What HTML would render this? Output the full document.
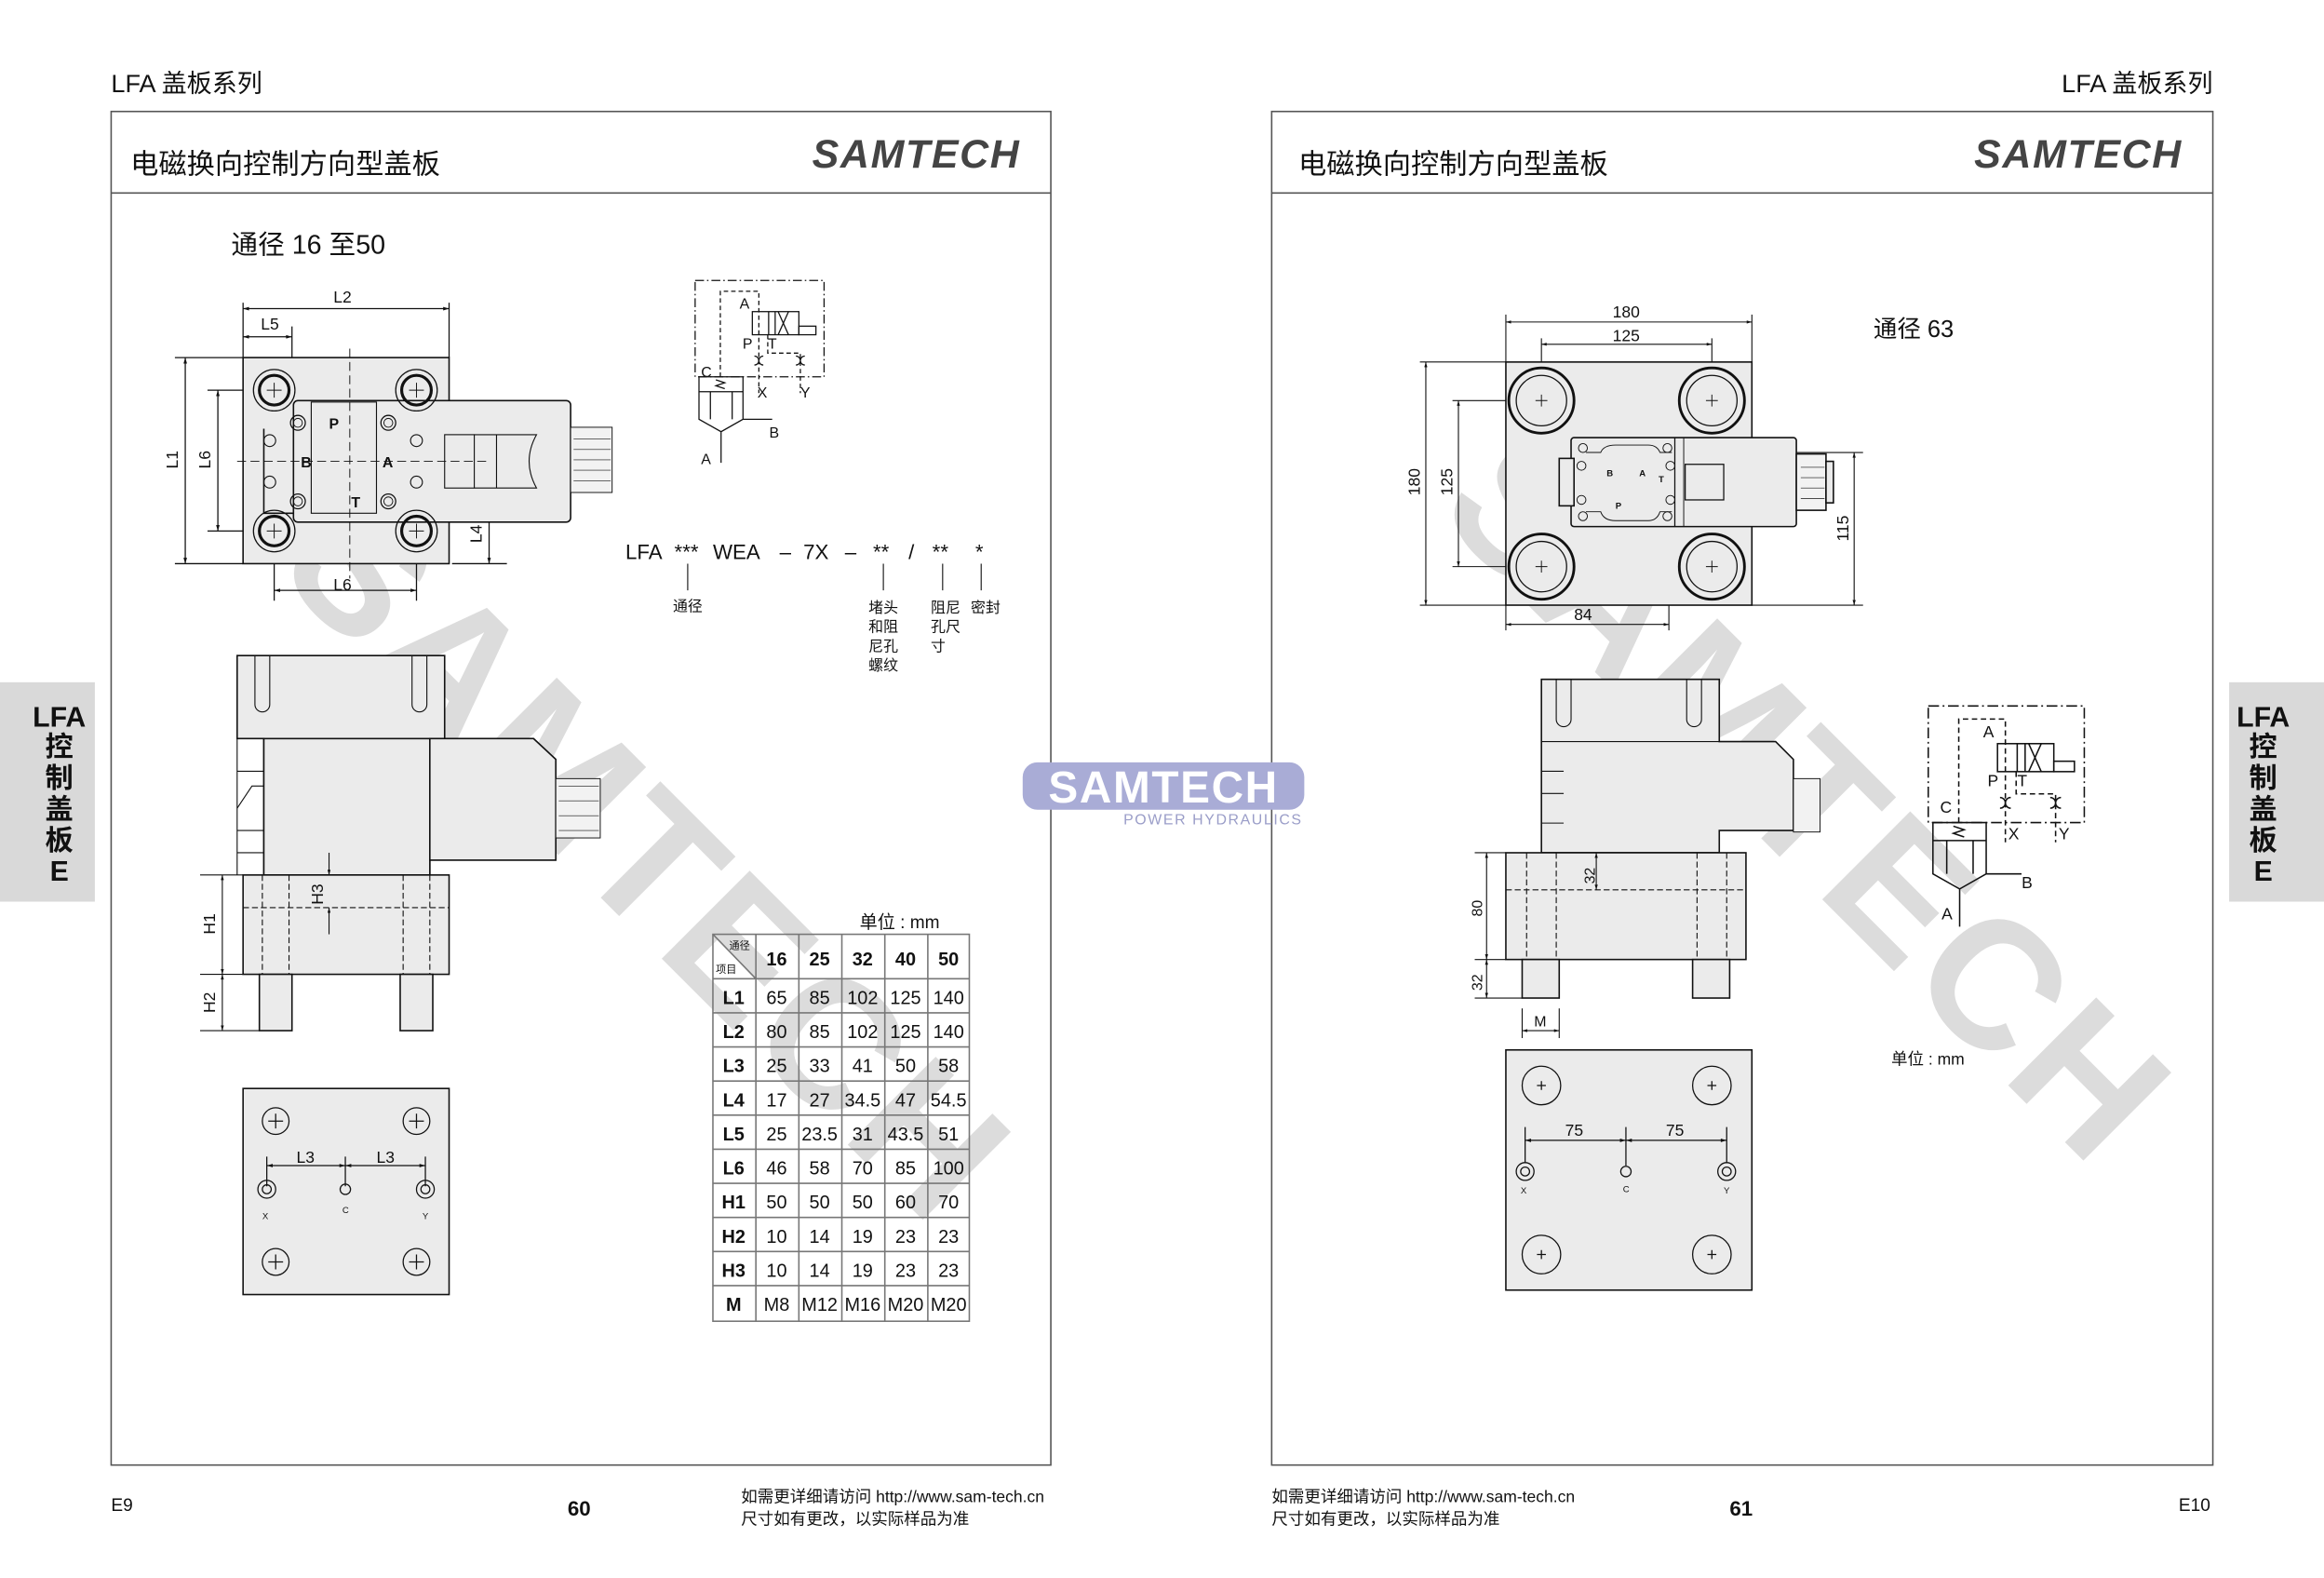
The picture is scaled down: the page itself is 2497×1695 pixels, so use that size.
<!DOCTYPE html>
<html><head><meta charset="utf-8"><style>
html,body{margin:0;padding:0;background:#fff;}
svg{display:block}
text{font-family:"Liberation Sans","Noto Sans CJK SC",sans-serif;fill:#111}
.cjk{font-family:"Noto Sans CJK SC","WenQuanYi Zen Hei",sans-serif}
</style></head><body>
<svg width="2497" height="1695" viewBox="0 0 1568 1064" xmlns="http://www.w3.org/2000/svg">
<defs>
<marker id="ar" viewBox="0 0 10 6" refX="10" refY="3" markerWidth="6" markerHeight="3" orient="auto-start-reverse"><path d="M0,0L10,3L0,6z" fill="#111"/></marker>
<g id="sym" fill="none" stroke="#111" stroke-width="0.8">
<rect x="0" y="0" width="87" height="65" stroke-dasharray="6,2,1,2"/>
<path d="M17,65V7.3H43V76 M49,36.6V49H71V76" stroke-dasharray="3,2"/>
<rect x="38.6" y="21" width="31.4" height="15.6"/>
<line x1="49.6" y1="21" x2="49.6" y2="36.6"/><line x1="54" y1="21" x2="54" y2="36.6"/>
<line x1="56" y1="21" x2="63" y2="36.6"/><line x1="63" y1="21" x2="56" y2="36.6"/>
<rect x="70" y="30.8" width="11.5" height="5.8"/>
<path d="M40,57a3,3 0 0 0 0,-6 M46,57a3,3 0 0 1 0,-6 M68,57a3,3 0 0 0 0,-6 M74,57a3,3 0 0 1 0,-6"/>
<path d="M2.6,65H32.3V93.6L17.5,102L2.6,93.6Z M2.6,75H32.3 M10.3,75V93.6 M25,75V93.6 M32.3,93.6H52 M17.5,102V123"/>
<path d="M14,67l6,2l-6,2l6,2"/>
</g>
</defs>

<!-- watermarks -->
<text x="0" y="0" font-size="122" font-weight="bold" transform="translate(185,385) rotate(45)" style="fill:#dcdcdc" letter-spacing="4">SAMTECH</text>
<text x="0" y="0" font-size="122" font-weight="bold" transform="translate(968,345) rotate(45)" style="fill:#dcdcdc" letter-spacing="4">SAMTECH</text>

<!-- headers -->
<text x="75" y="62" font-size="17">LFA 盖板系列</text>
<text x="1493" y="62" font-size="17" text-anchor="end">LFA 盖板系列</text>

<!-- frames -->
<g fill="none" stroke="#555" stroke-width="1">
<rect x="75" y="75" width="634" height="913"/><line x1="75" y1="130" x2="709" y2="130"/>
<rect x="858" y="75" width="635" height="913"/><line x1="858" y1="130" x2="1493" y2="130"/>
</g>
<text x="88" y="117" font-size="19" class="cjk">电磁换向控制方向型盖板</text>
<text x="876" y="117" font-size="19" class="cjk">电磁换向控制方向型盖板</text>
<text x="548" y="113" font-size="27" font-weight="bold" font-style="italic" style="fill:#444" letter-spacing="1">SAMTECH</text>
<text x="1332" y="113" font-size="27" font-weight="bold" font-style="italic" style="fill:#444" letter-spacing="1">SAMTECH</text>

<!-- side tabs -->
<rect x="0" y="460" width="64" height="148" fill="#d9d9d9"/>
<rect x="1504" y="460" width="64" height="148" fill="#d9d9d9"/>
<g font-size="19" font-weight="bold" text-anchor="middle">
<text x="40" y="490">LFA</text><text x="40" y="510">控</text><text x="40" y="531">制</text><text x="40" y="552">盖</text><text x="40" y="573">板</text><text x="40" y="594">E</text>
<text x="1527" y="490">LFA</text><text x="1527" y="510">控</text><text x="1527" y="531">制</text><text x="1527" y="552">盖</text><text x="1527" y="573">板</text><text x="1527" y="594">E</text>
</g>

<!-- center logo -->
<rect x="690" y="514" width="190" height="32" rx="10" fill="#a9acd6"/>
<text x="785" y="541" font-size="30" font-weight="bold" text-anchor="middle" style="fill:#fff" letter-spacing="1">SAMTECH</text>
<text x="758" y="556" font-size="10" style="fill:#9a9dc8" letter-spacing="1">POWER HYDRAULICS</text>

<!-- LEFT PAGE -->
<text x="156" y="171" font-size="18">通径 16 至50</text>

<g stroke="#111" stroke-width="0.8" fill="none">
<line x1="164" y1="204" x2="164" y2="241"/><line x1="303" y1="204" x2="303" y2="241"/>
<line x1="164" y1="208" x2="303" y2="208" marker-start="url(#ar)" marker-end="url(#ar)"/>
<line x1="164" y1="227" x2="197" y2="227" marker-start="url(#ar)" marker-end="url(#ar)"/>
<line x1="197" y1="220" x2="197" y2="290"/>
<line x1="118" y1="241" x2="164" y2="241"/><line x1="118" y1="380" x2="164" y2="380"/>
<line x1="125" y1="241" x2="125" y2="380" marker-start="url(#ar)" marker-end="url(#ar)"/>
<line x1="140" y1="263" x2="185" y2="263"/><line x1="140" y1="358" x2="185" y2="358"/>
<line x1="147" y1="263" x2="147" y2="358" marker-start="url(#ar)" marker-end="url(#ar)"/>
<line x1="185" y1="358" x2="185" y2="405"/><line x1="281" y1="358" x2="281" y2="405"/>
<line x1="185" y1="398" x2="281" y2="398" marker-start="url(#ar)" marker-end="url(#ar)"/>
<line x1="305" y1="380" x2="342" y2="380"/>
<line x1="330" y1="345" x2="330" y2="380" marker-start="url(#ar)" marker-end="url(#ar)"/>
</g>
<g font-size="11" style="fill:#222">
<text x="225" y="204">L2</text><text x="176" y="222">L5</text>
<text x="120" y="316" transform="rotate(-90 120 316)">L1</text>
<text x="142" y="316" transform="rotate(-90 142 316)">L6</text>
<text x="225" y="398">L6</text>
<text x="325" y="366" transform="rotate(-90 325 366)">L4</text>
</g>
<g stroke="#111" stroke-width="1" fill="#ebebeb">
<rect x="164" y="241" width="139" height="139"/>
<rect x="198" y="270" width="187" height="82" rx="3"/>
<path d="M178,289V346H198" fill="none"/>
<rect x="385" y="288" width="28" height="44" fill="#f2f2f2" stroke-width="0.6"/>
</g>
<g stroke="#111" fill="none">
<circle cx="185" cy="263" r="14" stroke-width="0.8"/><circle cx="185" cy="263" r="10" stroke-width="2"/>
<circle cx="281" cy="263" r="14" stroke-width="0.8"/><circle cx="281" cy="263" r="10" stroke-width="2"/>
<circle cx="185" cy="358" r="14" stroke-width="0.8"/><circle cx="185" cy="358" r="10" stroke-width="2"/>
<circle cx="281" cy="358" r="14" stroke-width="0.8"/><circle cx="281" cy="358" r="10" stroke-width="2"/>
<path d="M180,263h10M185,258v10M276,263h10M281,258v10M180,358h10M185,353v10M276,358h10M281,353v10" stroke-width="0.6"/>
<rect x="210" y="271" width="44" height="75" fill="#ebebeb" stroke-width="0.7"/>
<circle cx="201" cy="285" r="5" stroke-width="0.8"/><circle cx="201" cy="285" r="3" stroke-width="0.6"/>
<circle cx="262" cy="285" r="5" stroke-width="0.8"/><circle cx="262" cy="285" r="3" stroke-width="0.6"/>
<circle cx="201" cy="338" r="5" stroke-width="0.8"/><circle cx="201" cy="338" r="3" stroke-width="0.6"/>
<circle cx="262" cy="338" r="5" stroke-width="0.8"/><circle cx="262" cy="338" r="3" stroke-width="0.6"/>
<circle cx="182" cy="297" r="4" stroke-width="0.7"/><circle cx="182" cy="325" r="4" stroke-width="0.7"/>
<circle cx="281" cy="297" r="4" stroke-width="0.7"/><circle cx="281" cy="325" r="4" stroke-width="0.7"/>
<path d="M236,235V390 M160,311H330" stroke-dasharray="6,3" stroke-width="0.6"/>
<rect x="300" y="293" width="20" height="36" stroke-width="0.7"/>
<path d="M320,293H335V329H320 M335,293H362Q352,311 362,329H335" stroke-width="0.7"/>
<path d="M387,296H412M387,303H412M387,310H412M387,317H412M387,324H412" stroke-width="0.4"/>
</g>
<g font-size="10" font-weight="bold"><text x="222" y="289">P</text><text x="203" y="315">B</text><text x="258" y="315">A</text><text x="237" y="342">T</text></g>

<!-- side view left -->
<g stroke="#111" stroke-width="1" fill="#ebebeb">
<path d="M160,442H300V498H290V590H178V498H160Z"/>
<rect x="178" y="498" width="112" height="92"/>
<path d="M290,498H360L375,512V580H290Z"/>
<rect x="375" y="525" width="30" height="40" fill="#f2f2f2" stroke-width="0.6"/>
<rect x="164" y="590" width="139" height="67"/>
<rect x="175" y="657" width="22" height="38"/><rect x="270" y="657" width="22" height="38"/>
</g>
<g stroke="#111" fill="none" stroke-width="0.7">
<path d="M172,442V475a5,5 0 0 0 10,0V442 M278,442V475a5,5 0 0 0 10,0V442"/>
<path d="M160,520H178M160,545L170,530H178M160,560H178 M160,575H178"/>
<path d="M178,498H160V590" />
<path d="M177,590V657 M195,590V657 M272,590V657 M290,590V657" stroke-dasharray="4,2"/>
<path d="M164,612H303" stroke-dasharray="4,2"/>
<line x1="222" y1="575" x2="222" y2="590" marker-end="url(#ar)"/>
<line x1="222" y1="630" x2="222" y2="612" marker-end="url(#ar)"/>
<line x1="135" y1="590" x2="164" y2="590"/><line x1="135" y1="657" x2="164" y2="657"/><line x1="135" y1="695" x2="175" y2="695"/>
<line x1="150" y1="590" x2="150" y2="657" marker-start="url(#ar)" marker-end="url(#ar)"/>
<line x1="150" y1="657" x2="150" y2="695" marker-start="url(#ar)" marker-end="url(#ar)"/>
<path d="M377,530H404M377,540H404M377,550H404M377,560H404" stroke-width="0.4"/>
</g>
<g font-size="11"><text x="145" y="630" transform="rotate(-90 145 630)">H1</text><text x="145" y="683" transform="rotate(-90 145 683)">H2</text><text x="218" y="610" transform="rotate(-90 218 610)">H3</text></g>

<!-- bottom view left -->
<rect x="164" y="734" width="139" height="139" fill="#ebebeb" stroke="#111" stroke-width="1"/>
<g stroke="#111" fill="none" stroke-width="0.8">
<circle cx="186" cy="756" r="9"/><circle cx="281" cy="756" r="9"/><circle cx="186" cy="851" r="9"/><circle cx="281" cy="851" r="9"/>
<path d="M181,756h10M186,751v10M276,756h10M281,751v10M181,851h10M186,846v10M276,851h10M281,846v10"/>
<circle cx="180" cy="802" r="6"/><circle cx="180" cy="802" r="3"/><circle cx="287" cy="802" r="6"/><circle cx="287" cy="802" r="3"/><circle cx="233" cy="802" r="3.5"/>
<path d="M180,780V800M233,780V800M287,780V800"/>
<line x1="180" y1="786" x2="233" y2="786" marker-start="url(#ar)" marker-end="url(#ar)"/>
<line x1="233" y1="786" x2="287" y2="786" marker-start="url(#ar)" marker-end="url(#ar)"/>
</g>
<g font-size="11"><text x="200" y="784">L3</text><text x="254" y="784">L3</text></g>
<g font-size="6"><text x="177" y="822">X</text><text x="231" y="818">C</text><text x="285" y="822">Y</text></g>

<!-- symbol left -->
<use href="#sym" transform="translate(469,189)"/>
<g font-size="10"><text x="499" y="208">A</text><text x="501" y="235">P</text><text x="518" y="235">T</text><text x="473" y="254">C</text><text x="511" y="268">X</text><text x="540" y="268">Y</text><text x="519" y="295">B</text><text x="473" y="313">A</text></g>

<!-- code -->
<g font-size="14">
<text x="422" y="377">LFA</text><text x="455" y="377">***</text><text x="481" y="377">WEA</text><text x="526" y="377">–</text><text x="542" y="377">7X</text><text x="570" y="377">–</text><text x="589" y="377">**</text><text x="613" y="377">/</text><text x="629" y="377">**</text><text x="658" y="377">*</text>
</g>
<g stroke="#111" stroke-width="0.7"><path d="M464,380V398M596,380V398M636,380V398M662,380V398"/></g>
<g font-size="10" class="cjk">
<text x="454" y="412">通径</text>
<text x="586" y="413">堵头</text><text x="586" y="426">和阻</text><text x="586" y="439">尼孔</text><text x="586" y="452">螺纹</text>
<text x="628" y="413">阻尼</text><text x="628" y="426">孔尺</text><text x="628" y="439">寸</text>
<text x="655" y="413">密封</text>
</g>

<!-- table -->
<text x="580" y="626" font-size="12">单位 : mm</text>
<g stroke="#777" stroke-width="1" fill="none">
<rect x="481" y="630" width="173" height="261"/>
<path d="M510,630V891M539,630V891M568,630V891M597,630V891M626,630V891"/>
<path d="M481,660H654M481,683H654M481,706H654M481,729H654M481,752H654M481,775H654M481,798H654M481,821H654M481,844H654M481,867H654"/>
<line x1="481" y1="630" x2="510" y2="660"/>
</g>
<text x="492" y="640" font-size="7" class="cjk">通径</text><text x="483" y="656" font-size="7" class="cjk">项目</text>
<g font-size="12.5" text-anchor="middle">
<g font-weight="bold"><text x="524" y="651">16</text><text x="553" y="651">25</text><text x="582" y="651">32</text><text x="611" y="651">40</text><text x="640" y="651">50</text>
<text x="495" y="677">L1</text><text x="495" y="700">L2</text><text x="495" y="723">L3</text><text x="495" y="746">L4</text><text x="495" y="769">L5</text><text x="495" y="792">L6</text><text x="495" y="815">H1</text><text x="495" y="838">H2</text><text x="495" y="861">H3</text><text x="495" y="884">M</text></g>
<text x="524" y="677">65</text><text x="553" y="677">85</text><text x="582" y="677">102</text><text x="611" y="677">125</text><text x="640" y="677">140</text>
<text x="524" y="700">80</text><text x="553" y="700">85</text><text x="582" y="700">102</text><text x="611" y="700">125</text><text x="640" y="700">140</text>
<text x="524" y="723">25</text><text x="553" y="723">33</text><text x="582" y="723">41</text><text x="611" y="723">50</text><text x="640" y="723">58</text>
<text x="524" y="746">17</text><text x="553" y="746">27</text><text x="582" y="746">34.5</text><text x="611" y="746">47</text><text x="640" y="746">54.5</text>
<text x="524" y="769">25</text><text x="553" y="769">23.5</text><text x="582" y="769">31</text><text x="611" y="769">43.5</text><text x="640" y="769">51</text>
<text x="524" y="792">46</text><text x="553" y="792">58</text><text x="582" y="792">70</text><text x="611" y="792">85</text><text x="640" y="792">100</text>
<text x="524" y="815">50</text><text x="553" y="815">50</text><text x="582" y="815">50</text><text x="611" y="815">60</text><text x="640" y="815">70</text>
<text x="524" y="838">10</text><text x="553" y="838">14</text><text x="582" y="838">19</text><text x="611" y="838">23</text><text x="640" y="838">23</text>
<text x="524" y="861">10</text><text x="553" y="861">14</text><text x="582" y="861">19</text><text x="611" y="861">23</text><text x="640" y="861">23</text>
<text x="524" y="884">M8</text><text x="553" y="884">M12</text><text x="582" y="884">M16</text><text x="611" y="884">M20</text><text x="640" y="884">M20</text>
</g>

<!-- footers -->
<text x="75" y="1019" font-size="12">E9</text>
<text x="383" y="1022" font-size="14" font-weight="bold">60</text>
<text x="500" y="1013" font-size="11">如需更详细请访问 http://www.sam-tech.cn</text>
<text x="500" y="1028" font-size="11" class="cjk">尺寸如有更改，以实际样品为准</text>
<text x="858" y="1013" font-size="11">如需更详细请访问 http://www.sam-tech.cn</text>
<text x="858" y="1028" font-size="11" class="cjk">尺寸如有更改，以实际样品为准</text>
<text x="1167" y="1022" font-size="14" font-weight="bold">61</text>
<text x="1470" y="1019" font-size="12">E10</text>

<!-- RIGHT PAGE -->
<text x="1264" y="227" font-size="16">通径 63</text>
<g stroke="#111" stroke-width="0.7" fill="none">
<line x1="1016" y1="212" x2="1016" y2="244"/><line x1="1182" y1="212" x2="1182" y2="244"/>
<line x1="1016" y1="217" x2="1182" y2="217" marker-start="url(#ar)" marker-end="url(#ar)"/>
<line x1="1040" y1="228" x2="1040" y2="270"/><line x1="1155" y1="228" x2="1155" y2="270"/>
<line x1="1040" y1="232" x2="1155" y2="232" marker-start="url(#ar)" marker-end="url(#ar)"/>
<line x1="958" y1="244" x2="1016" y2="244"/><line x1="958" y1="408" x2="1016" y2="408"/>
<line x1="962" y1="244" x2="962" y2="408" marker-start="url(#ar)" marker-end="url(#ar)"/>
<line x1="980" y1="270" x2="1040" y2="270"/><line x1="980" y1="382" x2="1040" y2="382"/>
<line x1="984" y1="270" x2="984" y2="382" marker-start="url(#ar)" marker-end="url(#ar)"/>
<line x1="1016" y1="408" x2="1016" y2="425"/><line x1="1126" y1="382" x2="1126" y2="425"/>
<line x1="1016" y1="421" x2="1126" y2="421" marker-start="url(#ar)" marker-end="url(#ar)"/>
<line x1="1126" y1="305" x2="1257" y2="305"/><line x1="1182" y1="408" x2="1257" y2="408"/>
<line x1="1251" y1="305" x2="1251" y2="408" marker-start="url(#ar)" marker-end="url(#ar)"/>
</g>
<g font-size="11" style="fill:#222"><text x="1088" y="214">180</text><text x="1088" y="230">125</text><text x="1062" y="418">84</text>
<text x="958" y="334" transform="rotate(-90 958 334)">180</text><text x="980" y="334" transform="rotate(-90 980 334)">125</text><text x="1247" y="365" transform="rotate(-90 1247 365)">115</text></g>
<g stroke="#111" stroke-width="1" fill="#ebebeb">
<rect x="1016" y="244" width="166" height="164"/>
<rect x="1060" y="295" width="152" height="60" rx="2"/>
<rect x="1052" y="309" width="10" height="32"/>
<rect x="1212" y="306" width="20" height="38" fill="#f2f2f2"/>
<rect x="1232" y="311" width="5" height="28"/>
</g>
<g stroke="#111" fill="none">
<circle cx="1040" cy="270" r="22" stroke-width="1.8"/><circle cx="1040" cy="270" r="17" stroke-width="0.8"/>
<circle cx="1155" cy="270" r="22" stroke-width="1.8"/><circle cx="1155" cy="270" r="17" stroke-width="0.8"/>
<circle cx="1040" cy="382" r="22" stroke-width="1.8"/><circle cx="1040" cy="382" r="17" stroke-width="0.8"/>
<circle cx="1155" cy="382" r="22" stroke-width="1.8"/><circle cx="1155" cy="382" r="17" stroke-width="0.8"/>
<path d="M1036,270h8M1040,266v8M1151,270h8M1155,266v8M1036,382h8M1040,378v8M1151,382h8M1155,378v8" stroke-width="0.6"/>
<line x1="1130" y1="295" x2="1130" y2="355" stroke-width="0.8"/><line x1="1136" y1="295" x2="1136" y2="355" stroke-width="0.6"/>
<rect x="1137" y="313" width="26" height="24" stroke-width="0.8"/>
<path d="M1070,305H1080Q1082,300 1090,300H1112Q1118,300 1120,305H1128M1070,345H1080Q1082,351 1090,351H1112Q1118,351 1120,345H1128" stroke-width="0.6"/>
<circle cx="1068" cy="302" r="3" stroke-width="0.6"/><circle cx="1125" cy="302" r="3" stroke-width="0.6"/><circle cx="1068" cy="348" r="3" stroke-width="0.6"/><circle cx="1125" cy="348" r="3" stroke-width="0.6"/>
<circle cx="1067" cy="314" r="3" stroke-width="0.6"/><circle cx="1127" cy="314" r="3" stroke-width="0.6"/><circle cx="1067" cy="337" r="3" stroke-width="0.6"/><circle cx="1127" cy="337" r="3" stroke-width="0.6"/>
<path d="M1215,315h16M1215,322h16M1215,329h16M1215,336h16" stroke-width="0.4"/>
</g>
<g font-size="6" font-weight="bold"><text x="1084" y="321">B</text><text x="1106" y="321">A</text><text x="1119" y="325">T</text><text x="1090" y="343">P</text></g>

<!-- side view right -->
<g stroke="#111" stroke-width="1" fill="#ebebeb">
<path d="M1040,458H1160V500H1198L1210,512V560H1160V575H1040Z"/>
<rect x="1210" y="525" width="18" height="36" fill="#f2f2f2" stroke-width="0.6"/>
<rect x="1016" y="575" width="162" height="72"/>
<rect x="1027" y="647" width="25" height="26"/><rect x="1142" y="647" width="25" height="26"/>
</g>
<g stroke="#111" fill="none" stroke-width="0.7">
<path d="M1050,458V485a5,5 0 0 0 10,0V458 M1138,458V485a5,5 0 0 0 10,0V458"/>
<path d="M1040,500H1160M1040,520H1055M1040,535H1055M1040,555H1055"/>
<path d="M1030,575V647M1050,575V647M1145,575V647M1165,575V647" stroke-dasharray="4,2"/>
<path d="M1016,600H1178" stroke-dasharray="4,2"/>
<line x1="995" y1="575" x2="1016" y2="575"/><line x1="995" y1="647" x2="1016" y2="647"/><line x1="995" y1="673" x2="1027" y2="673"/>
<line x1="1003" y1="575" x2="1003" y2="647" marker-start="url(#ar)" marker-end="url(#ar)"/>
<line x1="1003" y1="647" x2="1003" y2="673" marker-start="url(#ar)" marker-end="url(#ar)"/>
<line x1="1077" y1="575" x2="1077" y2="600" marker-start="url(#ar)" marker-end="url(#ar)"/>
<line x1="1027" y1="680" x2="1027" y2="700"/><line x1="1052" y1="680" x2="1052" y2="700"/>
<line x1="1027" y1="695" x2="1052" y2="695" marker-start="url(#ar)" marker-end="url(#ar)"/>
</g>
<g font-size="10"><text x="1000" y="618" transform="rotate(-90 1000 618)">80</text><text x="1000" y="668" transform="rotate(-90 1000 668)">32</text><text x="1076" y="596" transform="rotate(-90 1076 596)">32</text><text x="1035" y="692">M</text></g>

<!-- bottom right -->
<rect x="1016" y="708" width="166" height="162" fill="#ebebeb" stroke="#111" stroke-width="1"/>
<g stroke="#111" fill="none" stroke-width="0.8">
<circle cx="1040" cy="732" r="13"/><circle cx="1155" cy="732" r="13"/><circle cx="1040" cy="846" r="13"/><circle cx="1155" cy="846" r="13"/>
<path d="M1037,732h6M1040,729v6M1152,732h6M1155,729v6M1037,846h6M1040,843v6M1152,846h6M1155,843v6"/>
<circle cx="1029" cy="790" r="6"/><circle cx="1029" cy="790" r="3"/><circle cx="1165" cy="790" r="6"/><circle cx="1165" cy="790" r="3"/><circle cx="1097" cy="790" r="3.5"/>
<path d="M1029,760V784M1097,760V786M1165,760V784"/>
<line x1="1029" y1="769" x2="1097" y2="769" marker-start="url(#ar)" marker-end="url(#ar)"/>
<line x1="1097" y1="769" x2="1165" y2="769" marker-start="url(#ar)" marker-end="url(#ar)"/>
</g>
<g font-size="11"><text x="1056" y="766">75</text><text x="1124" y="766">75</text></g>
<g font-size="6"><text x="1026" y="805">X</text><text x="1095" y="804">C</text><text x="1163" y="805">Y</text></g>
<text x="1276" y="718" font-size="11">单位 : mm</text>

<!-- symbol right -->
<use href="#sym" transform="translate(1301,476) scale(1.21)"/>
<g font-size="11"><text x="1338" y="497">A</text><text x="1341" y="530">P</text><text x="1361" y="530">T</text><text x="1309" y="548">C</text><text x="1355" y="566">X</text><text x="1389" y="566">Y</text><text x="1364" y="599">B</text><text x="1310" y="620">A</text></g>
</svg>
</body></html>
